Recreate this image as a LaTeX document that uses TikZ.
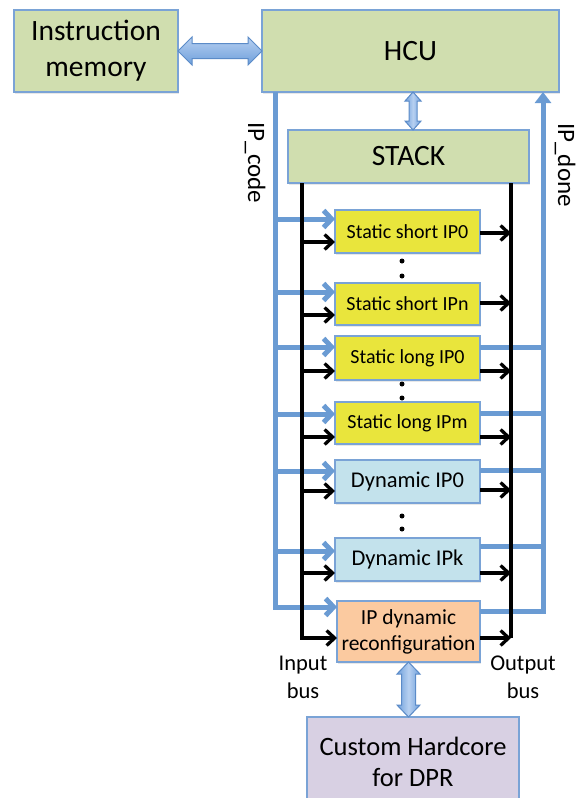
\documentclass[tikz,border=0pt]{standalone}
\usepackage{fontspec}
\setmainfont{Carlito}
\usetikzlibrary{arrows.meta,shadows,calc}
\definecolor{boxgreen}{HTML}{D0DEAF}
\definecolor{boxyellow}{HTML}{E9E53C}
\definecolor{boxdyn}{HTML}{C3E2EC}
\definecolor{boxorange}{HTML}{FBCAA0}
\definecolor{boxpurple}{HTML}{D8D0E3}
\definecolor{boxline}{HTML}{7AA3D6}
\definecolor{ipblue}{HTML}{6A9BD3}
\definecolor{arrlight}{HTML}{B7D0F1}
\definecolor{arrdark}{HTML}{6E9FDB}
\definecolor{arredge}{HTML}{5B8BC8}
\newcommand\hblockarrow[5]{%
  \path[blockh] let \p1=(#1), \p2=(#2) in
  (\x1,\y1) -- ({\x1+#5},{\y1+#4}) -- ({\x1+#5},{\y1+#3}) -- ({\x2-#5},{\y1+#3})
  -- ({\x2-#5},{\y1+#4}) -- (\x2,\y1) -- ({\x2-#5},{\y1-#4}) -- ({\x2-#5},{\y1-#3})
  -- ({\x1+#5},{\y1-#3}) -- ({\x1+#5},{\y1-#4}) -- cycle;}
\newcommand\vblockarrow[5]{%
  \path[blockv] let \p1=(#1), \p2=(#2) in
  (\x1,\y1) -- ({\x1+#4},{\y1-#5}) -- ({\x1+#3},{\y1-#5}) -- ({\x1+#3},{\y2+#5})
  -- ({\x1+#4},{\y2+#5}) -- (\x1,\y2) -- ({\x1-#4},{\y2+#5}) -- ({\x1-#3},{\y2+#5})
  -- ({\x1-#3},{\y1-#5}) -- ({\x1-#4},{\y1-#5}) -- cycle;}
\begin{document}
\begin{tikzpicture}[x=1pt,y=-1pt,
  box/.style={draw=boxline, line width=1.3pt, anchor=north west, inner sep=0pt,
    outer sep=0pt, align=center,
    drop shadow={shadow xshift=1.2pt,shadow yshift=-1.5pt,opacity=0.18}},
  greenbox/.style={box, fill=boxgreen, font=\fontsize{29.5}{36}\selectfont},
  statbox/.style={box, fill=boxyellow, minimum width=145pt, font=\fontsize{20}{24}\selectfont},
  dynbox/.style={box, fill=boxdyn, minimum width=145pt, font=\fontsize{22.5}{27}\selectfont},
  reconfbox/.style={box, fill=boxorange, font=\fontsize{21.5}{26}\selectfont},
  custbox/.style={box, fill=boxpurple, font=\fontsize{26.5}{31}\selectfont},
  blueline/.style={draw=ipblue, line width=5pt},
  bluearr/.style={blueline, -{Straight Barb[length=8pt,width=17pt]}},
  busline/.style={draw=black, line width=3.3pt},
  busarr/.style={busline, -{Straight Barb[length=8pt,width=15pt]}},
  blockh/.style={draw=arredge, line width=1pt, top color=arrlight, bottom color=arrdark},
  blockv/.style={draw=arredge, line width=1pt, left color=arrdark, right color=arrdark, middle color=arrlight},
  lbl/.style={font=\fontsize{25}{30}\selectfont, inner sep=0pt},
  buslbl/.style={font=\fontsize{22.5}{28}\selectfont, align=center, inner sep=0pt}
]
\clip (0,0) rectangle (579,798);
\fill[white] (0,0) rectangle (579,798);

% boxes
\node[greenbox, minimum width=164pt, minimum height=82pt] (im) at (14,10) {Instruction\\memory};
\node[greenbox, minimum width=297pt, minimum height=82pt] (hcu) at (262,10) {HCU};
\node[greenbox, minimum width=241pt, minimum height=53pt] (stack) at (288,130) {STACK};
\node[statbox, minimum height=43pt] (b1) at (335,210) {Static short IP0};
\node[statbox, minimum height=42pt] (b2) at (335,283) {Static short IPn};
\node[statbox, minimum height=44pt] (b3) at (335,336) {Static long IP0};
\node[statbox, minimum height=42pt] (b4) at (335,402) {Static long IPm};
\node[dynbox, minimum height=43pt] (b5) at (335,460) {Dynamic IP0};
\node[dynbox, minimum height=43pt] (b6) at (335,538) {Dynamic IPk};
\node[reconfbox, minimum width=143pt, minimum height=61pt] (b7) at (337,601) {IP dynamic\\reconfiguration};
\node[custbox, minimum width=212pt, minimum height=90pt] (custom) at (307,717) {Custom Hardcore\\for DPR};

% trunk positions
\coordinate (code) at (275,0);
\coordinate (done) at (543,0);
\coordinate (inbus) at (302,0);
\coordinate (outbus) at (511,0);

% block arrows
\hblockarrow{im.east}{hcu.west |- im.east}{7.5pt}{14pt}{14pt}
\vblockarrow{hcu.south -| 413,0}{stack.north -| 413,0}{4pt}{8pt}{9pt}
\vblockarrow{b7.south}{custom.north -| b7.south}{7pt}{11.5pt}{12pt}

% IP_code (blue)
\draw[bluearr] (hcu.south -| code) -- (code |- 0,607) -- (b7.west |- 0,607);
\foreach \n/\yy in {b1/219, b2/292, b3/347, b4/414, b5/471, b6/551}
  \draw[bluearr] (code |- 0,\yy) -- (\n.west |- 0,\yy);

% IP_done (blue)
\draw[blueline, -{Triangle[length=11pt,width=16pt]}] (b7.east |- 0,611) -| (done |- hcu.south);
\foreach \n/\yy in {b3/347, b4/413, b5/470, b6/546}
  \draw[blueline] (\n.east |- 0,\yy) -- (done |- 0,\yy);

% input bus
\draw[busarr] (stack.south -| inbus) -- (inbus |- 0,638) -- (b7.west |- 0,638);
\foreach \n/\yy in {b1/242, b2/315, b3/371, b4/437, b5/491, b6/573}
  \draw[busarr] (inbus |- 0,\yy) -- (\n.west |- 0,\yy);

% output bus
\draw[busline] (stack.south -| outbus) -- (outbus |- 0,638);
\foreach \n/\yy in {b1/233, b2/303, b3/371, b4/437, b5/490, b6/573, b7/638}
  \draw[busarr] (\n.east |- 0,\yy) -- (outbus |- 0,\yy);

% dots
\foreach \yy in {261,276,384,398,516,529}
  \fill (402,\yy) circle (2.5pt);

% labels
\node[lbl, rotate=-90] (ipcode) at (255,163) {IP\_code};
\node[lbl, rotate=-90] (ipdone) at (565,165) {IP\_done};
\node[buslbl] (inlbl) at (303,677) {Input\\bus};
\node[buslbl] (outlbl) at (523,677) {Output\\bus};
\end{tikzpicture}
\end{document}
